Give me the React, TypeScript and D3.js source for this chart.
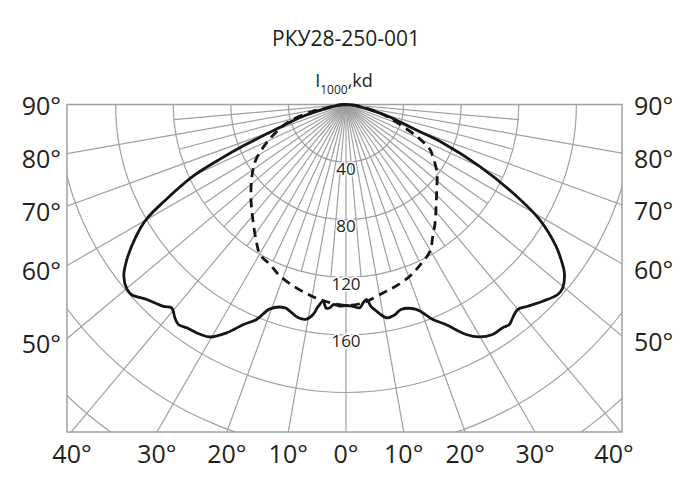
import React from "react";
import * as d3 from "d3";

// ---- data ----
const title = "РКУ28-250-001";
const unitMain = "I";
const unitSub = "1000";
const unitTail = ",kd";
const ringValues = [40, 80, 120, 160, 200, 240, 280];
const ringLabels = [40, 80, 120, 160];
const majorAngles = [-90, -80, -70, -60, -50, -40, -30, -20, -10, 0, 10, 20, 30, 40, 50, 60, 70, 80, 90];
const minorAngles = [-85, -75, -65, -55, -45, -35, -25, -15, -5, 5, 15, 25, 35, 45, 55, 65, 75, 85];
const sideAngleLabels = [90, 80, 70, 60, 50];
const bottomAngleLabels = [-40, -30, -20, -10, 0, 10, 20, 30, 40];

const solidAngles = [
  -90, -85, -80, -78, -74, -71, -70, -68.2, -66.5, -64.9, -62.2, -60.1, -57.9, -54.7, -52.3, -49.8,
  -48.4, -45.6, -42.1, -40.6, -38.7, -37.3, -35.5, -32.4, -30.3, -27.6, -25, -22.6, -20.4, -16.7,
  -15.2, -12.6, -10.4, -8.9, -7.8, -6.6, -5.6, -4.5, -3.6, -1.7, 0, 1.7, 3.9, 5, 6.1, 7, 8.4, 10.8,
  13, 15, 18.9, 22, 24.4, 27.6, 29.8, 32.5, 35.1, 36.6, 38, 39.9, 42, 45, 48.1, 49.8, 52.4, 54, 56,
  59.3, 62.1, 65.2, 68.4, 70, 72, 74, 78, 80, 85, 90,
];
const solidValues = [
  0, 5, 11, 16.5, 34, 48, 55, 75, 96, 117, 141, 160, 172, 186.5, 195, 199,
  199, 193.6, 189, 186, 190, 192, 190.5, 189, 187, 179, 168.6, 161.7, 151.4, 147.4,
  148.7, 151.8, 151.5, 147.6, 141.4, 137.5, 142, 141.6, 139.2, 140.1, 139.6, 140, 141.5, 138, 136.2, 141, 145.1, 150.8,
  150, 147.4, 150.4, 161, 167.8, 180.2, 186, 189.4, 189.4, 190.3, 188, 185.7, 188.5, 193.2, 197.6, 197.1, 191.4, 185, 175.9,
  156.2, 131, 102, 72, 52, 40, 32, 17, 11, 5, 0,
];

const dashedAngles = [
  -90, -85, -80, -78.6, -74.3, -71.1, -65.5, -58.6, -52.7, -45, -39, -33.7, -29.8, -25.4, -21, -15,
  -10.1, -6.1, 0, 5, 11.2, 15, 20.4, 25, 29.8, 33.4, 37, 40.6, 46.9, 53.2, 59.2, 61.8, 65.8, 72.9,
  75, 80, 85, 90,
];
const dashedValues = [
  0, 6, 15, 23.6, 38.5, 46.5, 58.5, 73.2, 82.1, 93.3, 102.8, 112.7, 120.1, 123, 127.7, 132,
  135.2, 137.4, 139.5, 138.2, 133.3, 131, 127.2, 122.5, 117.4, 109.5, 102.8, 96, 86.3, 78.9, 70.1, 66.2, 53.8, 31.5,
  26.8, 14, 6, 0,
];

// ---- layout ----
const W = 691;
const H = 494;
const cx = 346;
const cy = 104.5;
const frame = { left: 67, right: 622, top: 104.5, bottom: 432 };
const textColor = "#231f20";
const gridColor = "#a0a0a0";
const curveColor = "#161616";
const font = "'Open Sans', 'Noto Sans', sans-serif";

const rScale = d3.scaleLinear().domain([0, 40]).range([0, 57.6]);
const rad = (deg: number) => (deg * Math.PI) / 180;

function pt(angleDeg: number, r: number): [number, number] {
  return [cx + r * Math.sin(rad(angleDeg)), cy + r * Math.cos(rad(angleDeg))];
}

const radial = d3
  .lineRadial<[number, number]>()
  .angle((d) => Math.PI - rad(d[0]))
  .radius((d) => rScale(d[1]))
  .curve(d3.curveCatmullRom.alpha(0.5));

export default function App() {
  const solidData: [number, number][] = solidAngles.map((a, i) => [a, solidValues[i]]);
  const dashedData: [number, number][] = dashedAngles.map((a, i) => [a, dashedValues[i]]);
  const maxR = rScale(ringValues[ringValues.length - 1]) + 200;
  const minorR = rScale(ringValues[2]);
  const halfLeft = cx - frame.left;
  const halfRight = frame.right - cx;
  const depth = frame.bottom - cy;

  return (
    <svg
      width={W}
      height={H}
      viewBox={`0 0 ${W} ${H}`}
      style={{ position: "absolute", left: 0, top: 0, background: "#fff" }}
    >
      <defs>
        <clipPath id="frameClip">
          <rect x={frame.left} y={frame.top} width={frame.right - frame.left} height={frame.bottom - frame.top} />
        </clipPath>
      </defs>
      <rect width={W} height={H} fill="#fff" />
      <text x={cx} y={38} textAnchor="middle" dominantBaseline="central" fontFamily={font} fontSize={21} fill={textColor}>
        {title}
      </text>

      <g clipPath="url(#frameClip)" fill="none" stroke={gridColor} strokeWidth={1.2}>
        {ringValues.map((v) => (
          <circle key={"r" + v} cx={cx} cy={cy} r={rScale(v)} />
        ))}
        {majorAngles.map((a) => {
          const [x2, y2] = pt(a, maxR);
          return <line key={"m" + a} x1={cx} y1={cy} x2={x2} y2={y2} />;
        })}
        {minorAngles.map((a) => {
          const [x2, y2] = pt(a, minorR);
          return <line key={"n" + a} x1={cx} y1={cy} x2={x2} y2={y2} />;
        })}
      </g>
      <rect
        x={frame.left}
        y={frame.top}
        width={frame.right - frame.left}
        height={frame.bottom - frame.top}
        fill="none"
        stroke={gridColor}
        strokeWidth={1.5}
      />

      <g transform={`translate(${cx},${cy})`} fill="none" stroke={curveColor} strokeWidth={2.8} strokeLinejoin="round">
        <path d={radial(dashedData) || ""} strokeDasharray="9 6" />
        <path d={radial(solidData) || ""} />
      </g>

      {ringLabels.map((v) => (
        <text
          key={"rl" + v}
          x={cx}
          y={cy + rScale(v) + 6.5}
          dy="0.35em"
          textAnchor="middle"
          fontFamily={font}
          fontSize={17}
          fill={textColor}
          style={{ paintOrder: "stroke" }}
          stroke="#fff"
          strokeWidth={3}
        >
          {v}
        </text>
      ))}

      <text x={cx - 2} y={87} textAnchor="middle" fontFamily={font} fontSize={18} fill={textColor}>
        {unitMain}
        <tspan fontSize={12} dy={7}>
          {unitSub}
        </tspan>
        <tspan dy={-7}>{unitTail}</tspan>
      </text>

      {sideAngleLabels.map((a) => {
        const t = Math.tan(rad(a));
        const off = a < 90 ? 6 : 2;
        const yl = cy + (a < 90 ? halfLeft / t : 0) + off;
        const yr = cy + (a < 90 ? halfRight / t : 0) + off;
        return (
          <g key={"s" + a} fontFamily={font} fontSize={25} fill={textColor}>
            <text x={frame.left - 6} y={yl} dy="0.35em" textAnchor="end">
              {a}°
            </text>
            <text x={frame.right + 12} y={yr} dy="0.35em" textAnchor="start">
              {a}°
            </text>
          </g>
        );
      })}

      {bottomAngleLabels.map((a, i) => {
        const raw = cx + depth * Math.tan(rad(a));
        const x = Math.max(frame.left + 5, Math.min(frame.right - 8, raw));
        return (
          <text
            key={"b" + i}
            x={x}
            y={454}
            dy="0.35em"
            textAnchor="middle"
            fontFamily={font}
            fontSize={25}
            fill={textColor}
          >
            {Math.abs(a)}°
          </text>
        );
      })}
    </svg>
  );
}
